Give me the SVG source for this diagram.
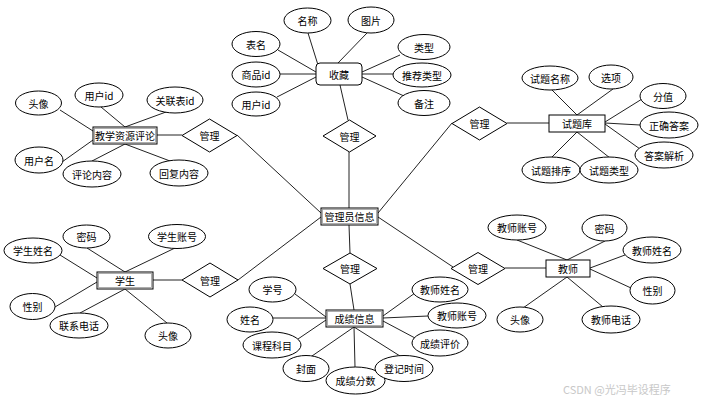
<svg xmlns="http://www.w3.org/2000/svg" width="701" height="402" viewBox="0 0 701 402">
<style>
text{font-family:"Noto Sans CJK SC","Liberation Sans",sans-serif;font-size:10px;fill:#000;text-anchor:middle;dominant-baseline:central}
ellipse{fill:#fff;stroke:#000;stroke-width:1}
.ent{fill:#fff;stroke:#000;stroke-width:1}
.inner{fill:none;stroke:#999;stroke-width:0.8}
polygon{fill:#fff;stroke:#000;stroke-width:1}
#connectors line{stroke:#222;stroke-width:1}
.wm{fill:#c8c8c8;font-size:11px;text-anchor:start}
</style>
<rect width="701" height="402" fill="#fff"/>
<g id="connectors">
<!-- 教学资源评论 -->
<line x1="60" y1="110" x2="93" y2="131"/>
<line x1="101" y1="107" x2="125" y2="127"/>
<line x1="166" y1="112" x2="125" y2="127"/>
<line x1="157" y1="135" x2="182" y2="135"/>
<line x1="93" y1="140" x2="62" y2="162"/>
<line x1="125" y1="144" x2="92" y2="161"/>
<line x1="125" y1="144" x2="170" y2="161"/>
<!-- 收藏 -->
<line x1="278" y1="50" x2="316" y2="72"/>
<line x1="280" y1="74" x2="316" y2="74"/>
<line x1="277" y1="97" x2="316" y2="77"/>
<line x1="308" y1="33" x2="318" y2="65"/>
<line x1="367" y1="33" x2="338" y2="63"/>
<line x1="400" y1="55" x2="362" y2="72"/>
<line x1="393" y1="74" x2="362" y2="74"/>
<line x1="404" y1="96" x2="362" y2="77"/>
<line x1="340" y1="85" x2="348" y2="120"/>
<!-- 管理员信息 -->
<line x1="237" y1="135" x2="321" y2="213"/>
<line x1="349" y1="152" x2="349" y2="208"/>
<line x1="378" y1="213" x2="452" y2="123"/>
<line x1="321" y1="217" x2="238" y2="280"/>
<line x1="349" y1="225" x2="350" y2="253"/>
<line x1="378" y1="217" x2="453" y2="267"/>
<!-- 试题库 -->
<line x1="507" y1="123" x2="549" y2="123"/>
<line x1="577" y1="115" x2="552" y2="90"/>
<line x1="577" y1="115" x2="613" y2="89"/>
<line x1="605" y1="122" x2="642" y2="99"/>
<line x1="605" y1="123" x2="640" y2="125"/>
<line x1="605" y1="124" x2="640" y2="149"/>
<line x1="577" y1="132" x2="552" y2="157"/>
<line x1="577" y1="132" x2="610" y2="158"/>
<!-- 学生 -->
<line x1="153" y1="280" x2="182" y2="280"/>
<line x1="125" y1="272" x2="87" y2="248"/>
<line x1="125" y1="272" x2="175" y2="248"/>
<line x1="97" y1="278" x2="60" y2="255"/>
<line x1="97" y1="282" x2="55" y2="307"/>
<line x1="125" y1="289" x2="80" y2="313"/>
<line x1="125" y1="289" x2="167" y2="323"/>
<!-- 成绩信息 -->
<line x1="350" y1="284" x2="354" y2="310"/>
<line x1="326" y1="317" x2="295" y2="294"/>
<line x1="273" y1="318" x2="326" y2="318"/>
<line x1="326" y1="320" x2="298" y2="339"/>
<line x1="354" y1="327" x2="312" y2="356"/>
<line x1="354" y1="327" x2="355" y2="367"/>
<line x1="354" y1="327" x2="400" y2="356"/>
<line x1="383" y1="316" x2="415" y2="293"/>
<line x1="383" y1="318" x2="428" y2="316"/>
<line x1="383" y1="321" x2="415" y2="338"/>
<!-- 教师 -->
<line x1="505" y1="268" x2="546" y2="268"/>
<line x1="567" y1="260" x2="517" y2="240"/>
<line x1="567" y1="260" x2="605" y2="241"/>
<line x1="590" y1="268" x2="625" y2="255"/>
<line x1="590" y1="269" x2="631" y2="288"/>
<line x1="567" y1="277" x2="523" y2="308"/>
<line x1="567" y1="277" x2="603" y2="307"/>
</g>

<g id="n-jxzypl"><rect class="ent" x="93" y="127" width="64" height="17"/><rect class="inner" x="94.5" y="128.5" width="61" height="14"/><text x="125" y="135.5">教学资源评论</text></g>
<g id="a-jxzypl-tx"><ellipse cx="38.5" cy="103" rx="23" ry="12"/><text x="38.5" y="103">头像</text></g>
<g id="a-jxzypl-yhid"><ellipse cx="99" cy="95" rx="24" ry="12"/><text x="99" y="95">用户id</text></g>
<g id="a-jxzypl-glbid"><ellipse cx="175" cy="100" rx="28" ry="13"/><text x="175" y="100">关联表id</text></g>
<g id="a-jxzypl-yhm"><ellipse cx="39" cy="160" rx="24" ry="13"/><text x="39" y="160">用户名</text></g>
<g id="a-jxzypl-plnr"><ellipse cx="92" cy="174" rx="29" ry="13"/><text x="92" y="174">评论内容</text></g>
<g id="a-jxzypl-hfnr"><ellipse cx="179" cy="173" rx="29" ry="13"/><text x="179" y="173">回复内容</text></g>
<g id="r-jxzypl"><polygon points="182,135.5 209.5,119 237,135.5 209.5,152"/><text x="209.5" y="135.5">管理</text></g>

<g id="n-sc"><rect class="ent" x="316" y="63" width="46" height="22" rx="4"/><text x="339" y="74">收藏</text></g>
<g id="a-sc-mc"><ellipse cx="307.5" cy="20.5" rx="23.5" ry="12.5"/><text x="307.5" y="20.5">名称</text></g>
<g id="a-sc-tp"><ellipse cx="371" cy="20" rx="23" ry="13"/><text x="371" y="20">图片</text></g>
<g id="a-sc-bm"><ellipse cx="256" cy="44" rx="24" ry="12.5"/><text x="256" y="44">表名</text></g>
<g id="a-sc-spid"><ellipse cx="256" cy="74.5" rx="24" ry="12.5"/><text x="256" y="74.5">商品id</text></g>
<g id="a-sc-yhid"><ellipse cx="256" cy="104" rx="24" ry="12"/><text x="256" y="104">用户id</text></g>
<g id="a-sc-lx"><ellipse cx="424" cy="47" rx="26" ry="12.5"/><text x="424" y="47">类型</text></g>
<g id="a-sc-tjlx"><ellipse cx="422" cy="75" rx="29" ry="12"/><text x="422" y="75">推荐类型</text></g>
<g id="a-sc-bz"><ellipse cx="424" cy="103" rx="26" ry="12.5"/><text x="424" y="103">备注</text></g>
<g id="r-sc"><polygon points="323,136 349.5,120 376,136 349.5,152"/><text x="349.5" y="136">管理</text></g>

<g id="n-glyxx"><rect class="ent" x="321" y="208" width="57" height="17"/><rect class="inner" x="322.5" y="209.5" width="54" height="14"/><text x="349.5" y="216.5">管理员信息</text></g>

<g id="r-stk"><polygon points="452,123.5 479.5,107 507,123.5 479.5,140"/><text x="479.5" y="123.5">管理</text></g>
<g id="n-stk"><rect class="ent" x="549" y="115" width="56" height="17"/><text x="577" y="123.5">试题库</text></g>
<g id="a-stk-stmc"><ellipse cx="550" cy="78" rx="28" ry="12"/><text x="550" y="78">试题名称</text></g>
<g id="a-stk-xx"><ellipse cx="611" cy="77" rx="22" ry="12"/><text x="611" y="77">选项</text></g>
<g id="a-stk-fz"><ellipse cx="663" cy="96" rx="23" ry="12.5"/><text x="663" y="96">分值</text></g>
<g id="a-stk-zqda"><ellipse cx="669" cy="125" rx="29" ry="13"/><text x="669" y="125">正确答案</text></g>
<g id="a-stk-dajx"><ellipse cx="664" cy="155" rx="29" ry="13"/><text x="664" y="155">答案解析</text></g>
<g id="a-stk-stpx"><ellipse cx="551" cy="170" rx="29" ry="13"/><text x="551" y="170">试题排序</text></g>
<g id="a-stk-stlx"><ellipse cx="609" cy="170" rx="29" ry="13"/><text x="609" y="170">试题类型</text></g>

<g id="n-xs"><rect class="ent" x="97" y="272" width="56" height="17"/><rect class="inner" x="98.5" y="273.5" width="53" height="14"/><text x="125" y="280.5">学生</text></g>
<g id="a-xs-mm"><ellipse cx="86.5" cy="236.5" rx="23.5" ry="11.5"/><text x="86.5" y="236.5">密码</text></g>
<g id="a-xs-xszh"><ellipse cx="177" cy="236.5" rx="28.5" ry="12"/><text x="177" y="236.5">学生账号</text></g>
<g id="a-xs-xsxm"><ellipse cx="33" cy="250.5" rx="29" ry="12.5"/><text x="33" y="250.5">学生姓名</text></g>
<g id="a-xs-xb"><ellipse cx="32.5" cy="306.5" rx="22.5" ry="13"/><text x="32.5" y="306.5">性别</text></g>
<g id="a-xs-lxdh"><ellipse cx="79" cy="325.5" rx="29" ry="12.5"/><text x="79" y="325.5">联系电话</text></g>
<g id="a-xs-tx"><ellipse cx="168" cy="335.5" rx="23" ry="12.5"/><text x="168" y="335.5">头像</text></g>
<g id="r-xs"><polygon points="182,280 210,263 238,280 210,297"/><text x="210" y="280">管理</text></g>

<g id="r-cjxx"><polygon points="323,268.5 350,253 377,268.5 350,284"/><text x="350" y="268.5">管理</text></g>
<g id="n-cjxx"><rect class="ent" x="326" y="310" width="57" height="17"/><rect class="inner" x="327.5" y="311.5" width="54" height="14"/><text x="354.5" y="318.5">成绩信息</text></g>
<g id="a-cj-xh"><ellipse cx="272.5" cy="289.5" rx="23.5" ry="12.5"/><text x="272.5" y="289.5">学号</text></g>
<g id="a-cj-xm"><ellipse cx="250" cy="319.5" rx="23" ry="12.5"/><text x="250" y="319.5">姓名</text></g>
<g id="a-cj-kckm"><ellipse cx="272" cy="345" rx="29" ry="13"/><text x="272" y="345">课程科目</text></g>
<g id="a-cj-fm"><ellipse cx="306" cy="368.5" rx="23" ry="13"/><text x="306" y="368.5">封面</text></g>
<g id="a-cj-cjfs"><ellipse cx="355.5" cy="380.5" rx="29.5" ry="13.5"/><text x="355.5" y="380.5">成绩分数</text></g>
<g id="a-cj-djsj"><ellipse cx="404" cy="368.5" rx="29" ry="13"/><text x="404" y="368.5">登记时间</text></g>
<g id="a-cj-jsxm"><ellipse cx="440" cy="289.5" rx="28" ry="12.5"/><text x="440" y="289.5">教师姓名</text></g>
<g id="a-cj-jszh"><ellipse cx="457" cy="315.5" rx="29" ry="12.5"/><text x="457" y="315.5">教师账号</text></g>
<g id="a-cj-cjpj"><ellipse cx="440" cy="343" rx="28" ry="13"/><text x="440" y="343">成绩评价</text></g>

<g id="r-js"><polygon points="451,268.5 478,252.5 505,268.5 478,284.5"/><text x="478" y="268.5">管理</text></g>
<g id="n-js"><rect class="ent" x="546" y="260" width="44" height="17"/><text x="568" y="268.5">教师</text></g>
<g id="a-js-jszh"><ellipse cx="517" cy="227.5" rx="29" ry="12.5"/><text x="517" y="227.5">教师账号</text></g>
<g id="a-js-mm"><ellipse cx="604.5" cy="228" rx="22.5" ry="13"/><text x="604.5" y="228">密码</text></g>
<g id="a-js-jsxm"><ellipse cx="652" cy="250" rx="29" ry="13"/><text x="652" y="250">教师姓名</text></g>
<g id="a-js-xb"><ellipse cx="652.5" cy="290.5" rx="22.5" ry="13.5"/><text x="652.5" y="290.5">性别</text></g>
<g id="a-js-tx"><ellipse cx="520" cy="319.5" rx="23" ry="12.5"/><text x="520" y="319.5">头像</text></g>
<g id="a-js-jsdh"><ellipse cx="611" cy="319.5" rx="29" ry="13.5"/><text x="611" y="319.5">教师电话</text></g>

<text class="wm" x="563" y="389">CSDN @光冯毕设程序</text>
</svg>
